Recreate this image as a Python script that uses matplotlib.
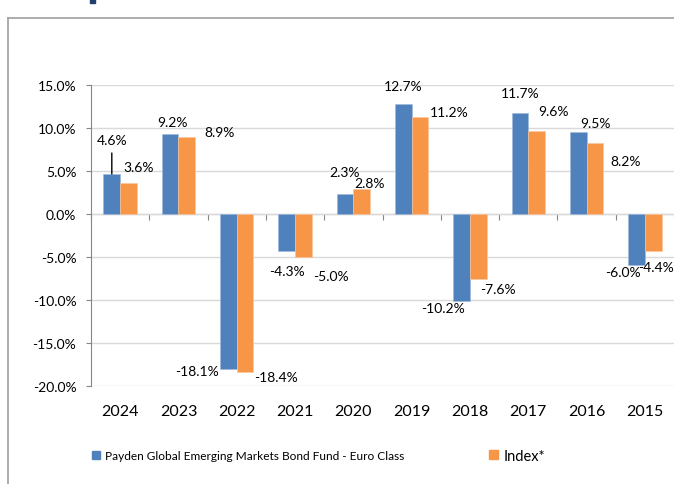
import matplotlib.pyplot as plt
from matplotlib.lines import Line2D
from matplotlib.patches import Rectangle, Patch
import numpy as np

plt.rcParams['font.family'] = ['Lato', 'DejaVu Sans']

years = ['2024', '2023', '2022', '2021', '2020', '2019', '2018', '2017', '2016', '2015']
fund = [4.6, 9.2, -18.1, -4.3, 2.3, 12.7, -10.2, 11.7, 9.5, -6.0]
index = [3.6, 8.9, -18.4, -5.0, 2.8, 11.2, -7.6, 9.6, 8.2, -4.4]
fund_name = 'Payden Global Emerging Markets Bond Fund - Euro Class'
index_name = 'Index*'

# label offsets in pixels from the end of each bar (Excel placed them by hand)
fund_off = [(0, 34), (2, 12), (-31, -2), (0, -20), (0, 22), (0, 18), (-19, -7), (0, 20), (17, 9), (-14, -7)]
index_off = [(10, 16), (33, 5), (31, -5), (28, -19), (8, 6), (29, 5), (20, -10), (17, 20), (31, -18), (3, -16)]

blue = '#4F81BD'
orange = '#F79646'
axis_grey = '#868686'

fig = plt.figure(figsize=(6.74, 4.85), dpi=100)
ax = fig.add_axes([91/674, (485-386.7)/485, 583/674, (386.7-85.5)/485])

x = np.arange(len(years))
w = 0.286
b1 = ax.bar(x - w/2, fund, w, color=blue, edgecolor='#9fb9dc', linewidth=0.4, zorder=3)
b2 = ax.bar(x + w/2, index, w, color=orange, edgecolor='#fbc79f', linewidth=0.4, zorder=3)

ax.set_xlim(-0.5, len(years) - 0.5)
ax.set_ylim(-20, 15)
ax.set_yticks(np.arange(-20, 16, 5))
ax.set_yticklabels(['%.1f%%' % v for v in np.arange(-20, 16, 5)])
ax.yaxis.grid(True, color='#d9d9d9', linewidth=1.0, zorder=0)
ax.set_axisbelow(True)

for s in ['top', 'right', 'bottom']:
    ax.spines[s].set_visible(False)
ax.spines['left'].set_color(axis_grey)
ax.spines['left'].set_linewidth(0.8)
ax.tick_params(axis='y', length=3.6, width=0.8, color=axis_grey, pad=7, labelsize=10)

ax.set_xticks(x)
ax.set_xticklabels(years)
ax.tick_params(axis='x', length=0, pad=13.5, labelsize=11.5)

# zero line with category separators
sec = ax.secondary_xaxis(20/35)
sec.set_alignment('bottom')
sec.set_xticks(np.arange(-0.5, len(years), 1.0))
sec.tick_params(axis='x', labelbottom=False, length=4.3, width=0.8, color=axis_grey, direction='out')
sec.spines['bottom'].set_color(axis_grey)
sec.spines['bottom'].set_linewidth(0.8)

for i in range(len(years)):
    for vals, offs, dx in [(fund, fund_off, -w/2), (index, index_off, w/2)]:
        ax.annotate('%.1f%%' % vals[i], xy=(x[i] + dx, vals[i]),
                    xytext=offs[i], textcoords='offset pixels',
                    ha='center', va='center', fontsize=10, zorder=5)

# leader line for the first fund label
ax.annotate('', xy=(x[0] - w/2, fund[0]), xytext=(0, 21), textcoords='offset pixels',
            arrowprops=dict(arrowstyle='-', color='black', lw=1.0, shrinkA=0, shrinkB=0))

# legend, two separately sized entries
leg1 = fig.legend([Patch(color=blue)], [fund_name], loc='center left',
                  bbox_to_anchor=(86/674, 28.3/485), frameon=False, fontsize=8.6,
                  handlelength=0.7, handleheight=0.7, handletextpad=0.4, borderpad=0)
leg2 = fig.legend([Patch(color=orange)], [index_name], loc='center left',
                  bbox_to_anchor=(482/674, 28.3/485), frameon=False, fontsize=10.5,
                  handlelength=0.6, handleheight=0.6, handletextpad=0.35, borderpad=0)

# outer frame pieces
fig.add_artist(Line2D([7.7/674, 7.7/674], [0, (485-19.3)/485], color='#a6a6a6', lw=1.3))
fig.add_artist(Line2D([7.7/674, 1], [(485-19.3)/485, (485-19.3)/485], color='#a6a6a6', lw=1.3))
fig.add_artist(Rectangle((90/674, 481/485), 5.4/674, 4/485, color='#1f3f6e', transform=fig.transFigure))

fig.savefig('out.png', dpi=100)
